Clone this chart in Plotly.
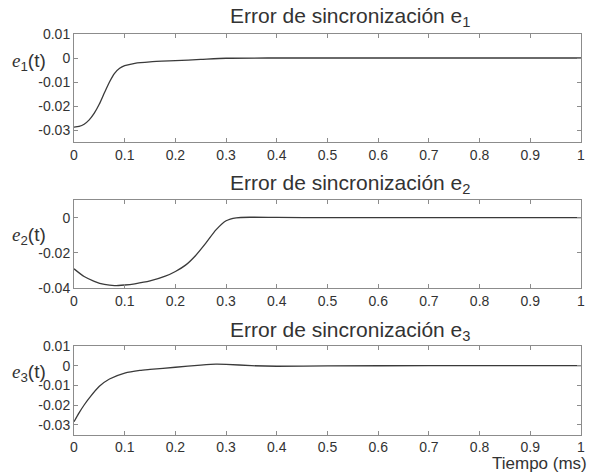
import plotly.graph_objects as go

# ---- data ----
t1 = [0, 0.01, 0.02, 0.03, 0.04, 0.05, 0.06, 0.07, 0.08, 0.09, 0.10, 0.12, 0.15, 0.20, 0.25, 0.30, 0.40, 0.60, 0.80, 1.0]
e1 = [-0.0288, -0.0285, -0.0276, -0.0258, -0.0230, -0.0192, -0.0145, -0.0100, -0.0064, -0.0043, -0.0032, -0.0022, -0.0016, -0.0011, -0.0006, -0.0001, 0.0, 0.0, 0.0, 0.0]

t2 = [0, 0.02, 0.04, 0.06, 0.08, 0.10, 0.12, 0.15, 0.18, 0.20, 0.22, 0.24, 0.26, 0.28, 0.30, 0.32, 0.35, 0.40, 0.50, 0.70, 1.0]
e2 = [-0.0291, -0.0335, -0.0362, -0.0380, -0.0387, -0.0383, -0.0376, -0.0360, -0.0333, -0.0306, -0.0270, -0.0215, -0.0145, -0.0070, -0.0018, -0.0001, 0.0002, 0.0001, 0.0, 0.0, 0.0]

t3 = [0, 0.01, 0.02, 0.03, 0.05, 0.07, 0.10, 0.13, 0.15, 0.20, 0.25, 0.28, 0.30, 0.35, 0.40, 0.50, 0.70, 1.0]
e3 = [-0.0285, -0.0240, -0.0200, -0.0165, -0.0105, -0.0068, -0.0038, -0.0024, -0.0019, -0.0008, 0.0003, 0.0008, 0.0007, 0.0000, -0.0003, -0.0001, 0.0, 0.0]

x_ticks = [0, 0.1, 0.2, 0.3, 0.4, 0.5, 0.6, 0.7, 0.8, 0.9, 1]
x_tick_text = ["0", "0.1", "0.2", "0.3", "0.4", "0.5", "0.6", "0.7", "0.8", "0.9", "1"]
y13_ticks = [0.01, 0, -0.01, -0.02, -0.03]
y13_tick_text = ["0.01", "0", "-0.01", "-0.02", "-0.03"]
y2_ticks = [0, -0.02, -0.04]
y2_tick_text = ["0", "-0.02", "-0.04"]

titles = ["Error de sincronización e<sub>1</sub>",
          "Error de sincronización e<sub>2</sub>",
          "Error de sincronización e<sub>3</sub>"]
SERIF = "Liberation Serif, Times New Roman, serif"
ylabels = [f"<span style='font-family:{SERIF}'><i>e</i></span><sub>{k}</sub>(t)" for k in (1, 2, 3)]
xlabel = "Tiempo (ms)"

W, H = 592, 475
FONT = "Liberation Sans, Arial, sans-serif"
AX = "#8c8c8c"
TXT = "#333333"
LINE = "#3a3a3a"

fig = go.Figure()
series = [(t1, e1), (t2, e2), (t3, e3)]
for i, (tt, ee) in enumerate(series):
    fig.add_trace(go.Scatter(x=tt, y=ee, mode="lines", line=dict(color=LINE, width=1.3, shape="spline", smoothing=0.6),
                             xaxis="x" if i == 0 else f"x{i+1}", yaxis="y" if i == 0 else f"y{i+1}",
                             showlegend=False, hoverinfo="skip"))

xdom = [74 / W, 581 / W]
ydoms = [[1 - 142 / H, 1 - 34 / H], [1 - 288 / H, 1 - 200 / H], [1 - 434.5 / H, 1 - 346 / H]]
yranges = [[-0.035, 0.01], [-0.04, 0.01], [-0.035, 0.01]]
yticks = [(y13_ticks, y13_tick_text), (y2_ticks, y2_tick_text), (y13_ticks, y13_tick_text)]

common = dict(showline=True, linecolor=AX, linewidth=1, mirror="ticks", ticks="inside", ticklen=4,
              tickcolor=AX, showgrid=False, zeroline=False, automargin=False,
              tickfont=dict(family=FONT, size=14, color=TXT))
layout = {}
for i in range(3):
    xk = "xaxis" if i == 0 else f"xaxis{i+1}"
    yk = "yaxis" if i == 0 else f"yaxis{i+1}"
    ya = "y" if i == 0 else f"y{i+1}"
    xa = "x" if i == 0 else f"x{i+1}"
    layout[xk] = dict(domain=xdom, range=[0, 1], anchor=ya, tickvals=x_ticks, ticktext=x_tick_text, **common)
    layout[yk] = dict(domain=ydoms[i], range=yranges[i], anchor=xa, tickvals=yticks[i][0], ticktext=yticks[i][1], **common)

fig.update_layout(width=W, height=H, margin=dict(l=0, r=0, t=0, b=0, autoexpand=False),
                  plot_bgcolor="white", paper_bgcolor="white", **layout)

title_y = [17, 184, 331]
label_y = [62, 236, 373]
for i in range(3):
    fig.add_annotation(text=titles[i], xref="paper", yref="paper", x=228 / W, y=1 - title_y[i] / H,
                       xanchor="left", yanchor="middle", showarrow=False,
                       font=dict(family=FONT, size=21, color=TXT))
    fig.add_annotation(text=ylabels[i], xref="paper", yref="paper", x=10 / W, y=1 - label_y[i] / H,
                       xanchor="left", yanchor="middle", showarrow=False,
                       font=dict(family=FONT, size=19, color=TXT))

fig.add_annotation(text=xlabel, xref="paper", yref="paper", x=589 / W, y=1 - 463 / H,
                   xanchor="right", yanchor="middle", showarrow=False,
                   font=dict(family=FONT, size=17, color=TXT))

fig.write_html("out.html", config={"displayModeBar": False},
               post_script="document.body.style.margin='0px';document.body.style.overflow='hidden';")
